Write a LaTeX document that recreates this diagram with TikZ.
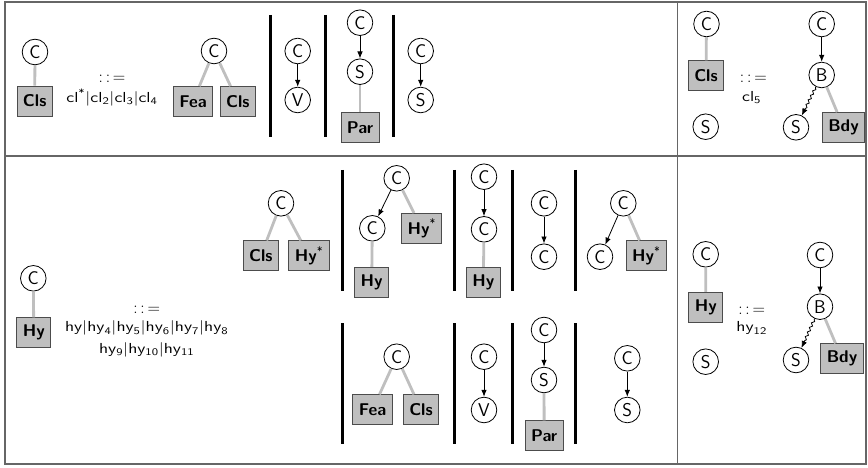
\documentclass[tikz,border=0pt]{standalone}
\usetikzlibrary{arrows.meta, decorations.pathmorphing}

\begin{document}
\begin{tikzpicture}[> = {Latex[length = 7pt, width = 5.5pt]}, x = 1pt, y = -1pt,
	every node/.style = {font = \sffamily\fontsize{18.5}{20}\selectfont},
	st/.style = {circle, draw, line width = 0.8pt, minimum size = 25.6pt, inner sep = 0pt},
	box/.style = {draw = black!70, fill = gray!50, line width = 0.8pt, minimum height = 30pt,
		inner xsep = 6pt, font = \sffamily\bfseries\fontsize{17}{20}\selectfont},
	link/.style = {draw = black!25, line width = 2.8pt},
	edge/.style = {->, line width = 0.8pt},
	wavy/.style = {edge, decorate, decoration = {snake, amplitude = 1.2pt, segment length = 5pt,
		pre length = 1pt, post length = 7pt}},
	bar/.style = {line width = 2.5pt},
	defs/.style = {font = \fontsize{19}{20}\selectfont, inner sep = 0pt},
	alts/.style = {font = \sffamily\fontsize{14.5}{17}\selectfont, inner sep = 0pt}]

	% Definition

	\def\F{black!60}	% colour of the table rules
	\def\many{\textsuperscript{\mdseries *}}
	\def\wide#1{\scalebox{1.25}[1]{#1}}	% the alternatives are set wide

	\useasboundingbox (0,0) rectangle (868,468);

	% Table frame

	\begin{scope}[draw = \F, line width = 1.5pt]

		\draw (5,2) rectangle (866,464);
		\draw (5,156) -- (866,156);
		\draw (677.5,2) -- (677.5,464);

	\end{scope}

	% Alternative separators

	\begin{scope}[bar]

		\foreach \x in {270.7, 325.7, 393.3}
			\draw (\x,15) -- (\x,137);
		\foreach \x in {342.3, 454.3, 512.7, 575.7}
		{
			\draw (\x,170) -- (\x,291);
			\draw (\x,323.3) -- (\x,444.3);
		}

	\end{scope}

	% Class rule: left hand side

	\node [st] (clC) at (35,52) {C};
	\node [box] (clB) at (34.7,101) {Cls};
	\draw [link] (clC) -- (clB);

	\node [defs] (clDef) at (112,79) {$:\,:\,=$};
	\node [alts] (clAlt) at (112,97.5) {\wide{cl\many|cl\textsubscript{2}|cl\textsubscript{3}|cl\textsubscript{4}}};

	% cl2, cl3, cl4 and cl*

	\node [st] (c2C) at (214,51) {C};
	\node [box] (c2Fea) at (193,101.5) {Fea};
	\node [box] (c2Cls) at (237.8,101.5) {Cls};
	\draw [link] (c2C) -- (c2Fea);
	\draw [link] (c2C) -- (c2Cls);

	\node [st] (c3C) at (297.7,51) {C};
	\node [st] (c3V) at (297.7,100) {V};
	\draw [edge] (c3C) -- (c3V);

	\node [st] (c4C) at (360,22.7) {C};
	\node [st] (c4S) at (360,71.7) {S};
	\node [box] (c4Par) at (360,127.7) {Par};
	\draw [edge] (c4C) -- (c4S);
	\draw [link] (c4S) -- (c4Par);

	\node [st] (c5C) at (420.7,51) {C};
	\node [st] (c5S) at (420.7,100) {S};
	\draw [edge] (c5C) -- (c5S);

	% Class rule with a body: cl5

	\node [st] (k1C) at (706.5,24) {C};
	\node [box] (k1Cls) at (706,75.7) {Cls};
	\node [st] (k1S) at (705.7,126.7) {S};
	\draw [link] (k1C) -- (k1Cls);

	\node [defs] (k1Def) at (753.3,79) {$:\,:\,=$};
	\node [alts] (k1Alt) at (751.7,97.7) {\wide{cl\textsubscript{5}}};

	\node [st] (k2C) at (821.7,24) {C};
	\node [st] (k2B) at (821.7,75) {B};
	\node [st] (k2S) at (796,127.3) {S};
	\node [box] (k2Bdy) at (843.5,127.5) {Bdy};
	\draw [edge] (k2C) -- (k2B);
	\draw [wavy] (k2B) -- (k2S);
	\draw [link] (k2B) -- (k2Bdy);

	% Hierarchy rule: left hand side

	\node [st] (hyC) at (33.3,278.3) {C};
	\node [box] (hyB) at (33.8,332.8) {Hy};
	\draw [link] (hyC) -- (hyB);

	\node [defs] (hyDef) at (146.7,310) {$:\,:\,=$};
	\node [alts] (hyAltA) at (146.7,328.3) {\wide{hy|hy\textsubscript{4}|hy\textsubscript{5}|hy\textsubscript{6}|hy\textsubscript{7}|hy\textsubscript{8}}};
	\node [alts] (hyAltB) at (146.7,350) {\wide{hy\textsubscript{9}|hy\textsubscript{10}|hy\textsubscript{11}}};

	% hy

	\node [st] (h1C) at (281,203.3) {C};
	\node [box] (h1Cls) at (260.8,255.8) {Cls};
	\node [box] (h1Hy) at (309,255.8) {Hy\many};
	\draw [link] (h1C) -- (h1Cls);
	\draw [link] (h1C) -- (h1Hy);

	% hy4 to hy7

	\node [st] (h4C) at (396.7,178.3) {C};
	\node [st] (h4D) at (372.3,228.3) {C};
	\node [box] (h4Hy) at (371.7,282.3) {Hy};
	\node [box] (h4Hs) at (421.7,228.3) {Hy\many};
	\draw [edge] (h4C) -- (h4D);
	\draw [link] (h4C) -- (h4Hs);
	\draw [link] (h4D) -- (h4Hy);

	\node [st] (h5C) at (484,176.7) {C};
	\node [st] (h5D) at (484,229.3) {C};
	\node [box] (h5Hy) at (483.3,282.3) {Hy};
	\draw [edge] (h5C) -- (h5D);
	\draw [link] (h5D) -- (h5Hy);

	\node [st] (h6C) at (544,203.3) {C};
	\node [st] (h6D) at (544,256.7) {C};
	\draw [edge] (h6C) -- (h6D);

	\node [st] (h7C) at (623.3,203.3) {C};
	\node [st] (h7D) at (600,256.7) {C};
	\node [box] (h7Hs) at (646.3,255.8) {Hy\many};
	\draw [edge] (h7C) -- (h7D);
	\draw [link] (h7C) -- (h7Hs);

	% hy8 to hy11

	\node [st] (h8C) at (396.7,356.7) {C};
	\node [box] (h8Fea) at (372.5,409.7) {Fea};
	\node [box] (h8Cls) at (421,409.7) {Cls};
	\draw [link] (h8C) -- (h8Fea);
	\draw [link] (h8C) -- (h8Cls);

	\node [st] (h9C) at (484,356.7) {C};
	\node [st] (h9V) at (484,410) {V};
	\draw [edge] (h9C) -- (h9V);

	\node [st] (h10C) at (544,330) {C};
	\node [st] (h10S) at (544,380) {S};
	\node [box] (h10Par) at (544.2,435.7) {Par};
	\draw [edge] (h10C) -- (h10S);
	\draw [link] (h10S) -- (h10Par);

	\node [st] (h11C) at (627.3,358.3) {C};
	\node [st] (h11S) at (627.3,410) {S};
	\draw [edge] (h11C) -- (h11S);

	% Hierarchy rule with a body: hy12

	\node [st] (g1C) at (705.7,254.3) {C};
	\node [box] (g1Hy) at (705.8,307.3) {Hy};
	\node [st] (g1S) at (705.7,361.7) {S};
	\draw [link] (g1C) -- (g1Hy);

	\node [defs] (g1Def) at (751.7,310.7) {$:\,:\,=$};
	\node [alts] (g1Alt) at (751.7,328.3) {\wide{hy\textsubscript{12}}};

	\node [st] (g2C) at (820,255) {C};
	\node [st] (g2B) at (820,306.7) {B};
	\node [st] (g2S) at (796,360) {S};
	\node [box] (g2Bdy) at (842,358.7) {Bdy};
	\draw [edge] (g2C) -- (g2B);
	\draw [wavy] (g2B) -- (g2S);
	\draw [link] (g2B) -- (g2Bdy);

\end{tikzpicture}
\end{document}
